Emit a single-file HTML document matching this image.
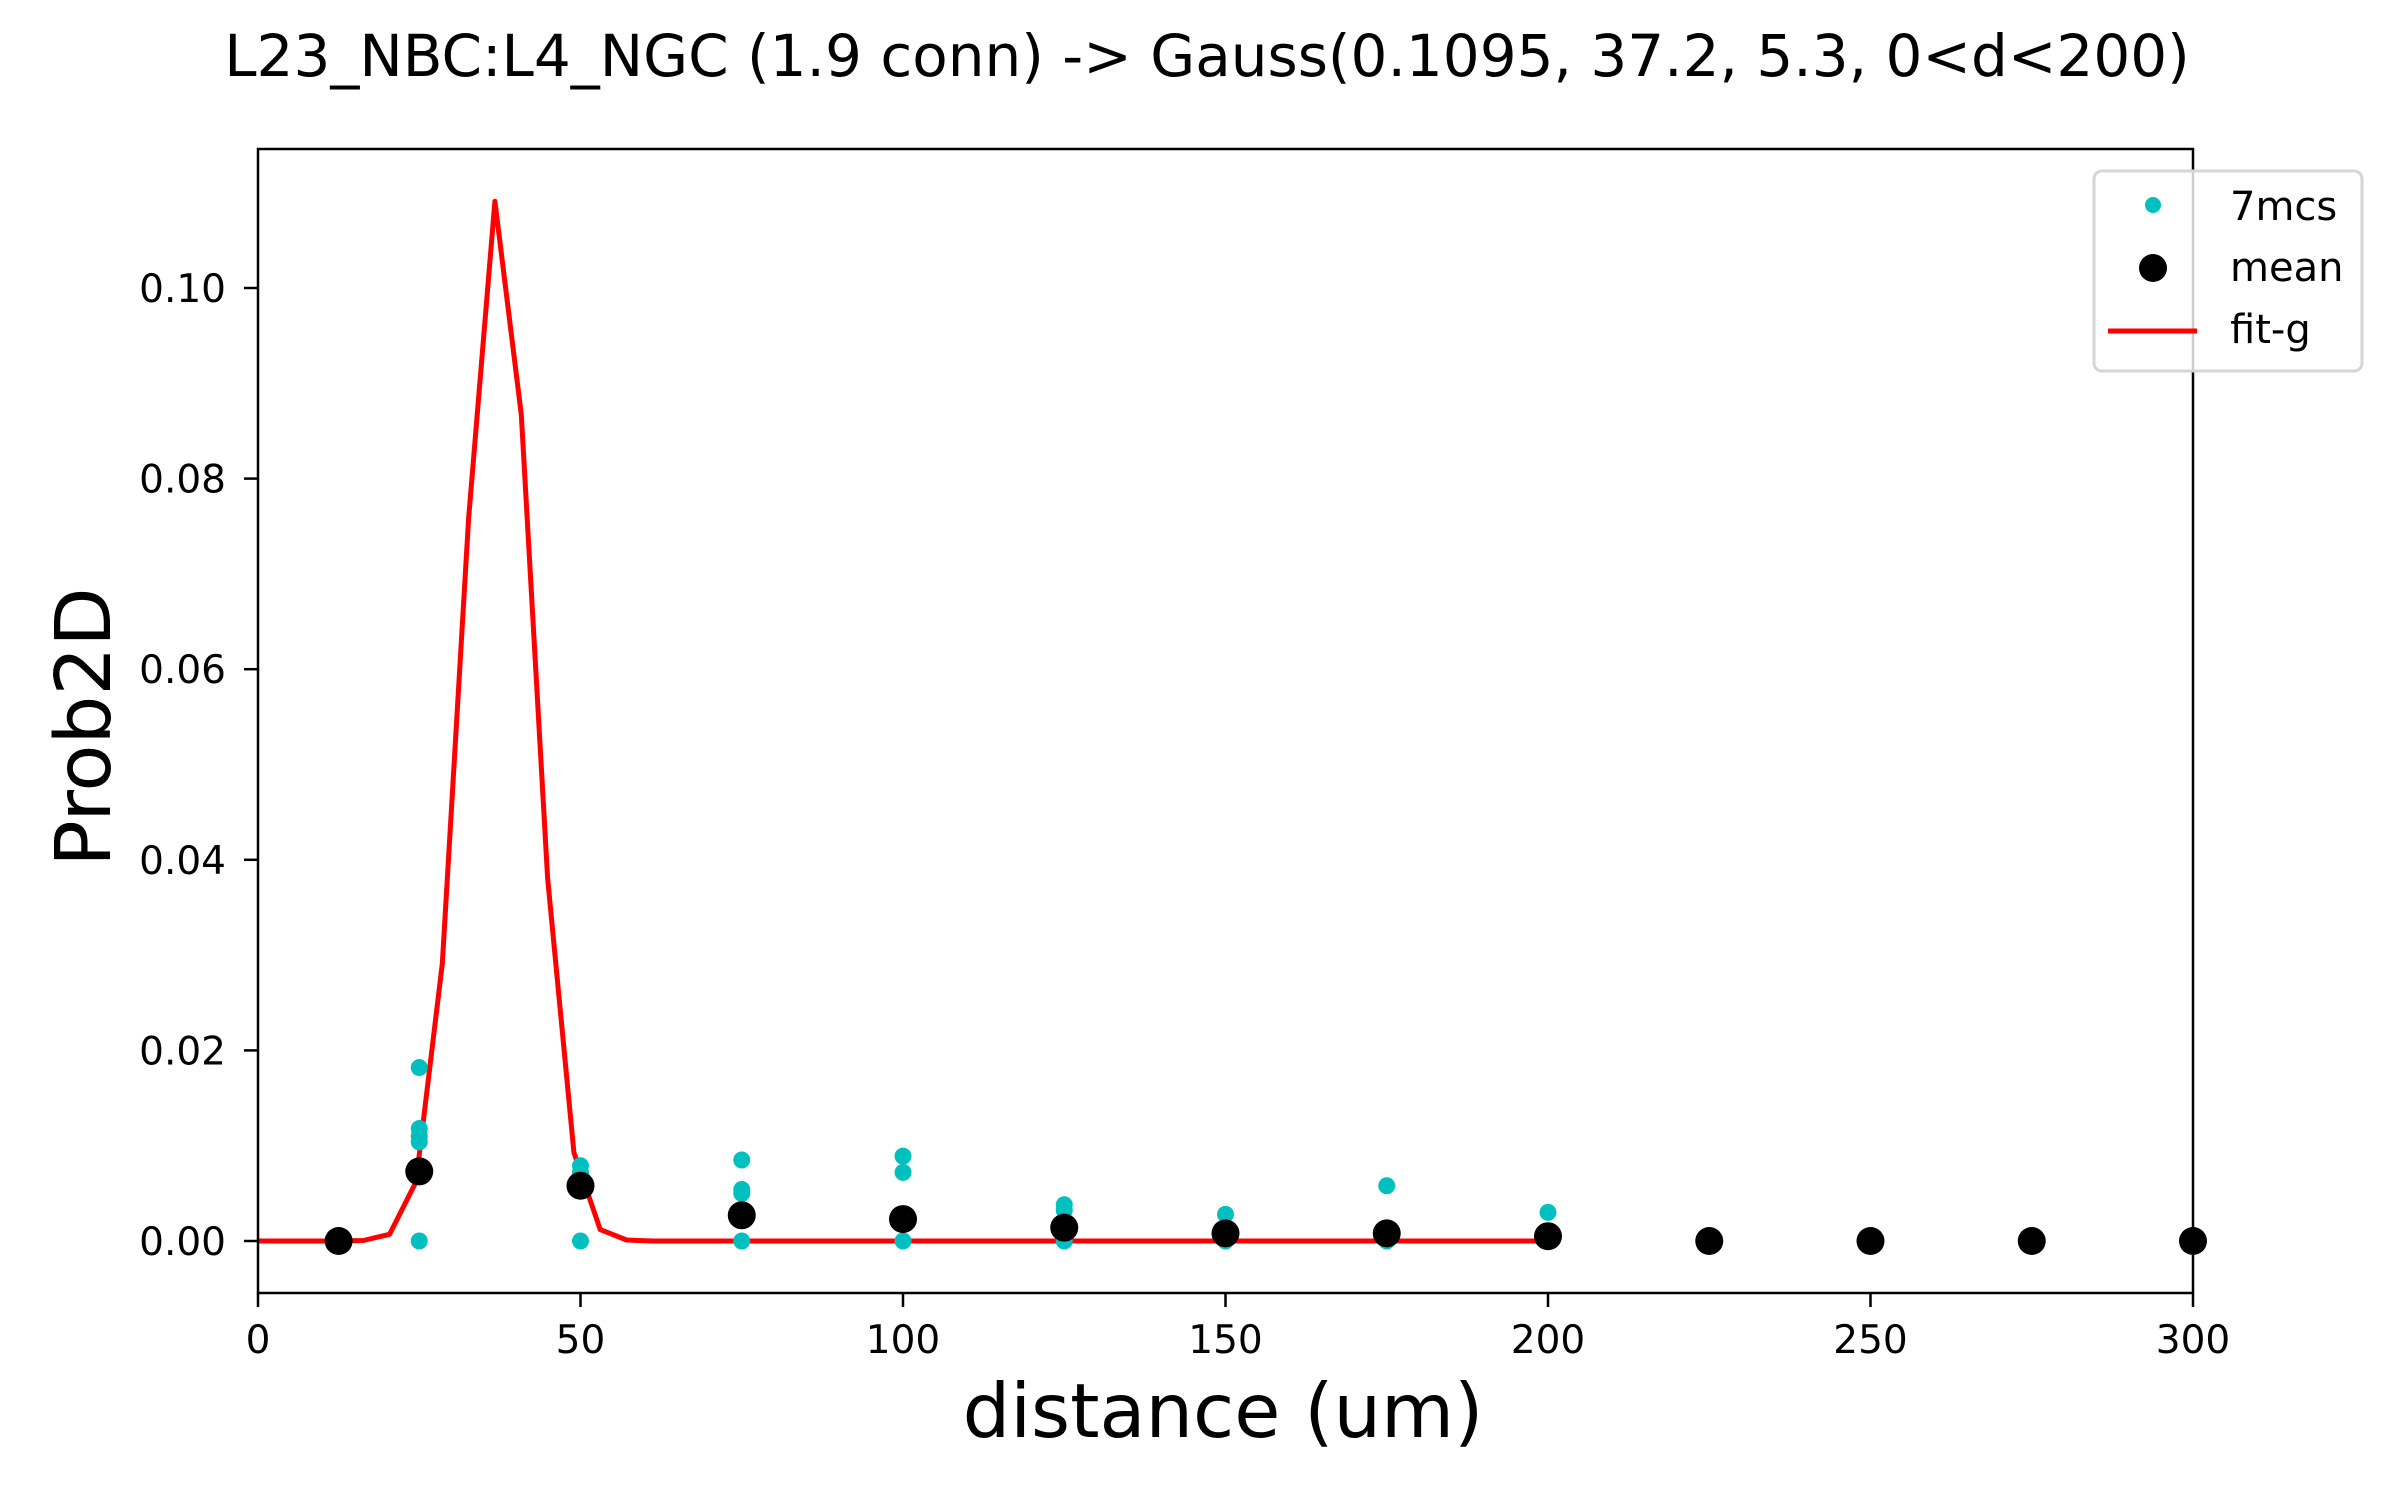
<!DOCTYPE html>
<html><head><meta charset="utf-8"><style>
html,body{margin:0;padding:0;background:#fff}
svg text{font-family:"DejaVu Sans","Liberation Sans",sans-serif}
</style></head><body>
<svg id="chart" width="2400" height="1500" xmlns="http://www.w3.org/2000/svg">
<rect width="2400" height="1500" fill="#fff"/>
<text x="1207" y="76" font-size="58" text-anchor="middle">L23_NBC:L4_NGC (1.9 conn) -&gt; Gauss(0.1095, 37.2, 5.3, 0&lt;d&lt;200)</text>
<g id="plot"></g>
<text x="1223" y="1437" font-size="75" text-anchor="middle">distance (um)</text>
<text transform="translate(110,727) rotate(-90)" font-size="77" text-anchor="middle">Prob2D</text>
</svg>
<script>
const xTicks=[0,50,100,150,200,250,300];
const yTicks=[0,0.02,0.04,0.06,0.08,0.10];
const yTickLabels=["0.00","0.02","0.04","0.06","0.08","0.10"];
const meanX=[12.5,25,50,75,100,125,150,175,200,225,250,275,300];
const meanY=[0,0.0073,0.0058,0.0027,0.0023,0.0014,0.0008,0.0008,0.0005,0,0,0,0];
const sampleX=[25,25,25,25,25,50,50,50,75,75,75,75,100,100,100,125,125,125,150,150,175,175,200,200];
const sampleY=[0.0182,0.0118,0.0110,0.0104,0,0.0079,0.0072,0,0.0085,0.0054,0.0050,0,0.0089,0.0072,0,0.0038,0.0032,0,0.0028,0,0.0058,0,0.0030,0];
const fitY=[0,0,0,0,0.00005,0.0007,0.0062,0.0291,0.0758,0.1091,0.0867,0.0381,0.0093,0.0012,0.0001,0,0,0,0,0,0,0,0,0,0,0,0,0,0,0,0,0,0,0,0,0,0,0,0,0,0,0,0,0,0,0,0,0,0,0];
const L=258,R=2193,T=149,B=1293;
const X=v=>L+(v-0)/300*(R-L);
const Y=v=>1241-(v/0.1)*(1241-288);
const NS="http://www.w3.org/2000/svg";
const g=document.getElementById('plot');
function mk(t,a){const e=document.createElementNS(NS,t);for(const k in a)e.setAttribute(k,a[k]);g.appendChild(e);return e;}
let d=fitY.map((v,i)=>(i?'L':'M')+X(i*200/49).toFixed(1)+','+Y(v).toFixed(1)).join(' ');
let fl=mk('path',{d:d,fill:'none',stroke:'#ff0000','stroke-width':5,'stroke-linejoin':'round'});


sampleX.forEach((x,i)=>{const c=mk('circle',{cx:X(x),cy:Y(sampleY[i]),r:8.5,fill:'#00bfbf'});

});
meanX.forEach((x,i)=>{const c=mk('circle',{cx:X(x),cy:Y(meanY[i]),r:14,fill:'#000'});

});
const fr=mk('rect',{x:L,y:T,width:R-L,height:B-T,fill:'none',stroke:'#000','stroke-width':2.5});


xTicks.forEach(v=>{mk('line',{x1:X(v),x2:X(v),y1:B,y2:B+14,stroke:'#000','stroke-width':2.5});
const t=mk('text',{x:X(v),y:1353,'font-size':39,'text-anchor':'middle'});t.textContent=v;

});
yTicks.forEach((v,i)=>{mk('line',{x1:L-14,x2:L,y1:Y(v),y2:Y(v),stroke:'#000','stroke-width':2.5});
const t=mk('text',{x:226,y:Y(v)+14,'font-size':39,'text-anchor':'end'});t.textContent=yTickLabels[i];

});
const lg=mk('rect',{x:2094,y:171,width:268,height:200,rx:8,fill:'#fff','fill-opacity':0.8,stroke:'#d5d5d5','stroke-width':3});


mk('circle',{cx:2153,cy:205,r:8,fill:'#00bfbf'});
mk('circle',{cx:2153,cy:268,r:14,fill:'#000'});
mk('line',{x1:2108,x2:2197,y1:331,y2:331,stroke:'#ff0000','stroke-width':5});
[["7mcs",220],["mean",281],["fit-g",343]].forEach(a=>{const t=mk('text',{x:2230,y:a[1],'font-size':40});t.textContent=a[0];

});
</script>
</body></html>
